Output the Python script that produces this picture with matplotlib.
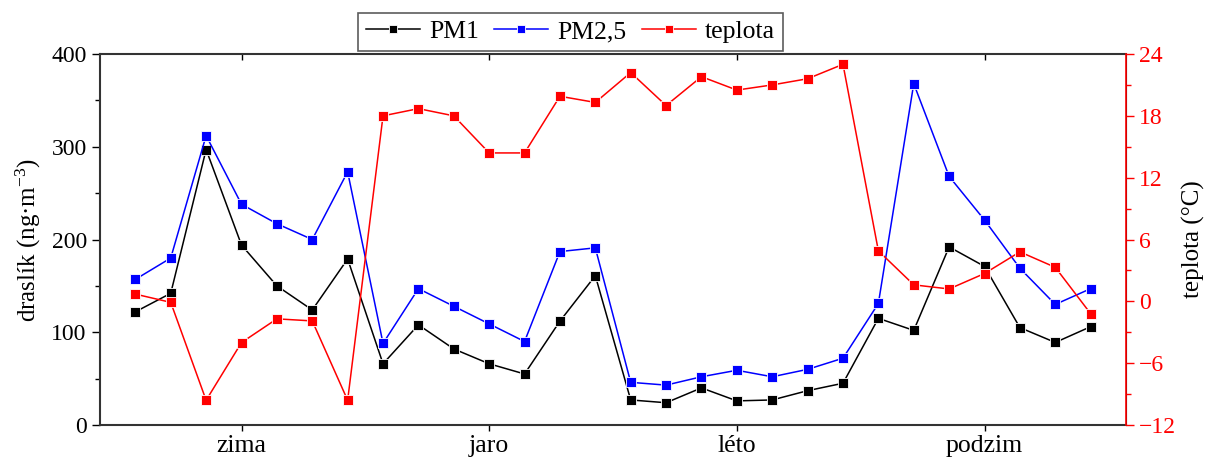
import matplotlib
matplotlib.use('Agg')
import matplotlib.pyplot as plt
import numpy as np

plt.rcParams['font.family'] = ['Liberation Serif', 'DejaVu Serif']
plt.rcParams['mathtext.fontset'] = 'custom'
plt.rcParams['mathtext.rm'] = 'Liberation Serif'
plt.rcParams['mathtext.it'] = 'Liberation Serif:italic'

# --------- DATA ----------
seasons = ['zima', 'jaro', 'léto', 'podzim']
season_pos = [3, 10, 17, 24]

pm1 = [122, 142, 297, 194, 150, 124, 179, 66, 108, 82, 66, 55, 112, 161,
       27, 24, 40, 26, 27, 37, 45, 115, 102, 192, 171, 105, 89, 106]
pm25 = [157, 180, 312, 238, 217, 200, 273, 88, 147, 128, 109, 90, 187, 191,
        46, 43, 52, 59, 52, 60, 72, 131, 368, 268, 221, 169, 130, 147]
teplota = [0.7, -0.1, -9.6, -4.0, -1.7, -1.9, -9.6, 18.0, 18.7, 18.0, 14.4, 14.4,
           19.9, 19.3, 22.2, 19.0, 21.8, 20.5, 21.0, 21.6, 23.0, 4.9, 1.6, 1.2,
           2.7, 4.8, 3.3, -1.2]
# --------------------------

x = np.arange(len(pm1))

fh = plt.figure(figsize=(12.06, 4.62), dpi=100)
ax = fh.add_axes([0.0829, 0.0801, 0.8508, 0.803])
ax2 = ax.twinx()

mk = dict(marker='s', markersize=6.8, markeredgecolor='white', markeredgewidth=0.6, linewidth=1.1)
l1, = ax.plot(x, pm1, color='black', markerfacecolor='black', label='PM1', **mk)
l2, = ax.plot(x, pm25, color='blue', markerfacecolor='blue', label='PM2,5', **mk)
l3, = ax2.plot(x, teplota, color='red', markerfacecolor='red', label='teplota', **mk)

ax.set_xlim(-1, 28)
ax.set_ylim(0, 400)
ax2.set_ylim(-12, 24)

ax.set_xticks(season_pos)
ax.set_xticklabels(seasons)
ax.set_yticks([0, 100, 200, 300, 400])
ax.set_yticks([50, 150, 250, 350], minor=True)
ax2.set_yticks([-12, -6, 0, 6, 12, 18, 24])
ax2.set_yticks([-9, -3, 3, 9, 15, 21], minor=True)

ax.tick_params(axis='x', direction='out', length=4, width=1, labelsize=18.5)
ax.tick_params(axis='y', direction='out', length=6, width=1, labelsize=17)
ax.tick_params(axis='y', which='minor', direction='out', length=3.5, width=1)
ax2.tick_params(axis='y', colors='red', direction='out', length=6, width=1, labelsize=17)
ax2.tick_params(axis='y', which='minor', colors='red', direction='out', length=3.5, width=1)

# inward ticks on the top edge
top = ax.secondary_xaxis('top')
top.set_xticks(season_pos)
top.tick_params(direction='in', length=4, width=1, labeltop=False)
top.spines['top'].set_visible(False)

for sp in ['left', 'bottom', 'top']:
    ax.spines[sp].set_color('#333333')
    ax.spines[sp].set_linewidth(1.5)
ax2.spines['right'].set_color('red')
ax2.spines['right'].set_linewidth(1.2)
ax2.spines['left'].set_visible(False)
ax2.spines['top'].set_visible(False)
ax2.spines['bottom'].set_visible(False)

ax.set_ylabel('draslík (ng·m$^{-3}$)', fontsize=18, labelpad=6)
ax2.set_ylabel('teplota (°C)', fontsize=18, labelpad=4)

leg = fh.legend(handles=[l1, l2, l3], loc='center', bbox_to_anchor=(0.473, 0.931),
                ncol=3, fontsize=18.5, frameon=True, fancybox=False, edgecolor='#333333',
                handlelength=2.1, handletextpad=0.35, columnspacing=0.6, borderpad=0.3,
                markerscale=0.8)
leg.get_frame().set_linewidth(1.2)

fh.savefig('out.png', dpi=100)
